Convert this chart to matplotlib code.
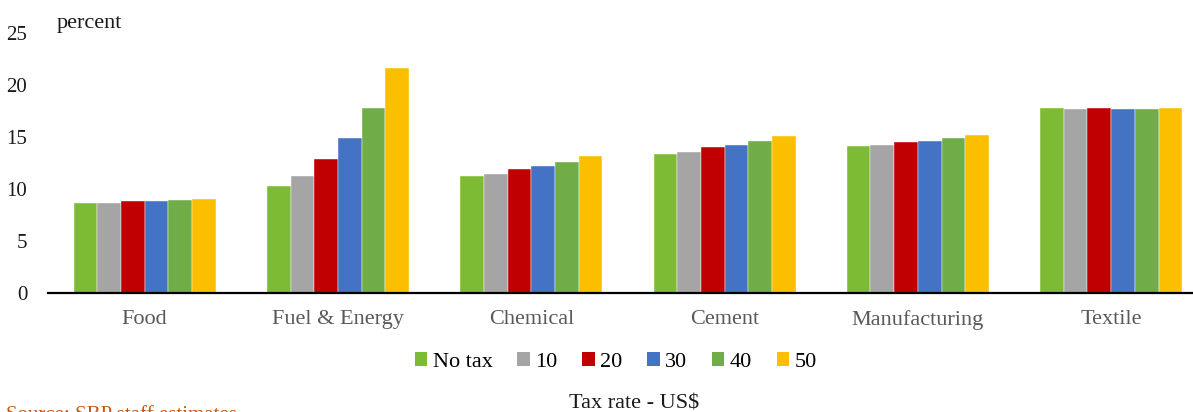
import matplotlib
matplotlib.use("Agg")
import matplotlib.pyplot as plt
from matplotlib.patches import Patch
import numpy as np

plt.rcParams['font.family'] = ['Liberation Serif', 'DejaVu Serif']

categories = ["Food", "Fuel & Energy", "Chemical", "Cement", "Manufacturing", "Textile"]
series_names = ["No tax", "10", "20", "30", "40", "50"]
no_tax = [8.68, 10.29, 11.25, 13.33, 14.13, 17.79]
tax_10 = [8.62, 11.28, 11.47, 13.59, 14.23, 17.69]
tax_20 = [8.85, 12.85, 11.92, 14.04, 14.52, 17.79]
tax_30 = [8.82, 14.90, 12.24, 14.26, 14.62, 17.72]
tax_40 = [8.94, 17.80, 12.63, 14.65, 14.90, 17.72]
tax_50 = [9.04, 21.60, 13.14, 15.10, 15.19, 17.82]
yticks = [0, 5, 10, 15, 20, 25]

series = [no_tax, tax_10, tax_20, tax_30, tax_40, tax_50]
colors = ["#7CBB33", "#A5A5A5", "#C00000", "#4472C4", "#70AD47", "#FCBF00"]

W, H = 1193, 412
fig = plt.figure(figsize=(W / 100, H / 100), dpi=100)
ax = fig.add_axes([48 / W, (H - 293) / H, 6 * 193.3 / W, 260 / H])

x = np.arange(len(categories))
bw = 0.1225
for i, (vals, c) in enumerate(zip(series, colors)):
    ax.bar(x + (i - 2.5) * bw, vals, width=bw, color=c, edgecolor="white",
           linewidth=0.3, zorder=2)

ax.set_xlim(-0.5, len(categories) - 0.5)
ax.set_ylim(0, 25)
ax.set_yticks(yticks)
ax.set_yticklabels([str(v) for v in yticks], fontsize=15, color="#1a1a1a")
ax.set_xticks(x)
ax.set_xticklabels(categories, fontsize=16, color="#595959")
ax.tick_params(axis="y", length=0, pad=15)
ax.tick_params(axis="x", length=0, pad=12)
for s in ["top", "right", "left"]:
    ax.spines[s].set_visible(False)
ax.spines["bottom"].set_linewidth(1.6)
ax.spines["bottom"].set_color("black")
ax.spines["bottom"].set_zorder(3)

fig.text(57 / W, 1 - 28 / H, "percent", fontsize=16, color="#1a1a1a",
         ha="left", va="baseline")

handles = [Patch(facecolor=c, edgecolor="none") for c in colors]
fig.legend(handles, series_names, loc="center", bbox_to_anchor=(616 / W, 1 - 362 / H),
           ncol=6, frameon=False, fontsize=16, handlelength=0.55, handleheight=0.55,
           handletextpad=0.25, columnspacing=1.12, borderpad=0, borderaxespad=0)

fig.text(634 / W, 1 - 409 / H, "Tax rate - US$", fontsize=16, color="#1a1a1a",
         ha="center", va="baseline")
fig.text(6 / W, 1 - 415 / H, "Source: SBP staff estimates", fontsize=15,
         color="#C55A11", ha="left", va="center")

fig.savefig("out.png", dpi=100)
